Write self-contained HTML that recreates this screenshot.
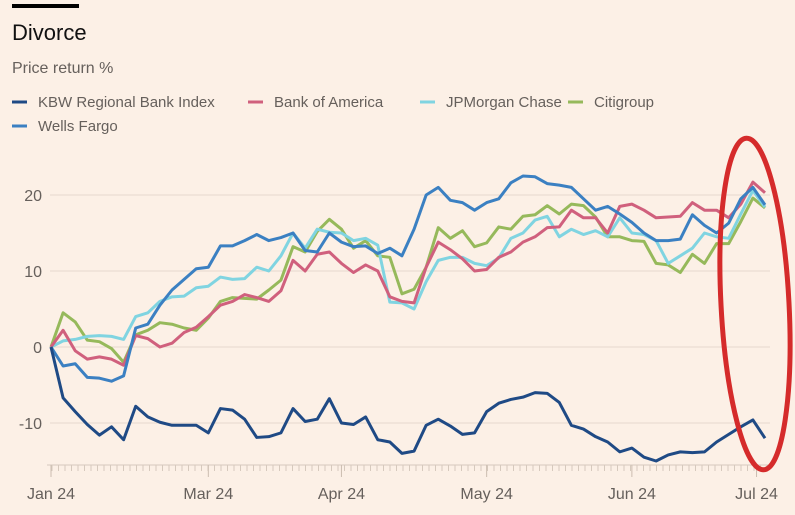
<!DOCTYPE html>
<html><head><meta charset="utf-8"><style>
body{margin:0;background:#fcf0e6;font-family:"Liberation Sans",sans-serif;}
#wrap{position:relative;width:795px;height:515px;overflow:hidden;background:#fcf0e6;}
.t{position:absolute;white-space:nowrap;}
</style></head><body>
<div id="wrap">
<div class="t" style="left:12px;top:4px;width:67px;height:4px;background:#000"></div>
<div class="t" style="left:12px;top:20px;font-size:22px;color:#111">Divorce</div>
<div class="t" style="left:12px;top:60px;font-size:16px;color:#66605c">Price return %</div>
<svg id="svg" width="795" height="515" style="position:absolute;left:0;top:0"></svg>
</div>
<script>
const categories=[...Array(60).keys()];
const seriesNames=["KBW Regional Bank Index","Bank of America","JPMorgan Chase","Citigroup","Wells Fargo"];
const kbw=[0,-6.7,-8.5,-10.2,-11.6,-10.5,-12.2,-7.8,-9.2,-9.9,-10.3,-10.3,-10.3,-11.3,-8.1,-8.3,-9.5,-11.9,-11.8,-11.3,-8.1,-9.8,-9.5,-6.8,-10,-10.2,-9.2,-12.2,-12.5,-14,-13.7,-10.3,-9.5,-10.4,-11.5,-11.3,-8.5,-7.4,-6.9,-6.6,-6,-6.1,-7.3,-10.3,-10.8,-11.8,-12.5,-13.8,-13.3,-14.5,-15,-14.2,-13.8,-13.9,-13.8,-12.5,-11.5,-10.5,-9.6,-12];
const bofa=[0,2.2,-0.5,-1.6,-1.3,-1.6,-2.4,1.5,1.1,0,0.5,1.9,2.6,4,5.5,6,6.9,6.5,6,7.4,11.4,10,12.2,12.5,11,9.8,10.8,10,6.6,6,5.8,10.5,13.8,12.8,11.6,10,10.2,11.8,12.5,13.8,14.5,15.7,15.8,18,17,17,15,18.5,18.8,18,17,17.1,17.2,19,18,18,17,18.8,21.7,20.3];
const jpm=[0,0.8,1,1.4,1.5,1.4,1,4,4.5,6,6.6,6.7,7.8,8,9.2,8.9,9,10.5,10,12,15,13,15.5,15.1,15,14,14.3,13.4,5.9,5.8,5,8.6,11.4,11.8,11.8,11,10.7,11.7,14.3,15,16.7,17.2,14.5,15.5,14.8,15.3,14.5,17,15,14.8,14,11,12,13,15,14.5,14.3,17.5,20.6,18.4];
const citi=[0,4.5,3.3,0.9,0.7,-0.2,-2,1.6,2.2,3.2,3,2.5,2.2,3.8,6,6.5,6.4,6.3,7.5,8.8,13.2,12.5,15.2,16.8,15.5,13,14,12,11.8,7,7.6,10.5,15.7,14.3,15.3,13.2,13.7,15.8,15.5,17.2,17.4,18.6,17.5,18.8,18.6,17.1,14.5,14.5,14,13.9,11,10.8,9.8,12.2,11,13.6,13.6,16.5,19.6,18.3];
const wfc=[0,-2.5,-2.2,-4,-4.1,-4.5,-3.8,2.5,3,5.5,7.5,8.9,10.3,10.5,13.3,13.3,14,14.8,14,14.4,15,12.7,12.5,15,13.8,13.2,13.3,12.3,13,12,15.5,20,21,19.3,19,18,19,19.5,21.6,22.5,22.4,21.5,21.3,21,19.5,18,18.5,17.5,16.4,15,14,14,14.2,17.4,16,15,16.3,19.5,21,18.7];
const yTicks=[20,10,0,-10];
const yTickLabels=["20","10","0","-10"];
const xTickPos=[0,13,24,36,48,58.3];
const xTickLabels=["Jan 24","Mar 24","Apr 24","May 24","Jun 24","Jul 24"];

const NS="http://www.w3.org/2000/svg";
const svg=document.getElementById('svg');
const x=i=>51+i*(765-51)/59;
const y=v=>347-v*7.6;
function mk(tag,attrs){const e=document.createElementNS(NS,tag);for(const k in attrs)e.setAttribute(k,attrs[k]);svg.appendChild(e);return e;}

yTicks.forEach((t,k)=>{
  const g=mk('line',{x1:50,x2:770,y1:y(t),y2:y(t),stroke:'#e6d9ce','stroke-width':1});
  
  
  const tx=mk('text',{x:42,y:y(t)+6,'text-anchor':'end','font-size':16,fill:'#66605c','font-family':'Liberation Sans, sans-serif'});
  tx.textContent=yTickLabels[k];
  
  
});
const ax=mk('line',{x1:47,x2:770,y1:465,y2:465,stroke:'#d6c9bd','stroke-width':1});


for(let px=52;px<=768;px+=6.5){
  const tk=mk('line',{x1:px,x2:px,y1:465,y2:471,stroke:'#d6c9bd','stroke-width':1});
  
  
}
xTickPos.forEach((p,k)=>{
  const tk=mk('line',{x1:x(p),x2:x(p),y1:465,y2:477,stroke:'#cbbdb0','stroke-width':1});
  
  
  const tx=mk('text',{x:x(p),y:499,'text-anchor':'middle','font-size':16,fill:'#66605c','font-family':'Liberation Sans, sans-serif'});
  tx.textContent=xTickLabels[k];
  
  
});

const series=[[citi,'#96b95b','line-citigroup'],[jpm,'#80d4e1','line-jpmorgan'],[bofa,'#d0607d','line-bank-of-america'],[wfc,'#3b80c2','line-wells-fargo'],[kbw,'#1f4a85','line-kbw-index']];
series.forEach(([d,c,n])=>{
  const p=mk('polyline',{points:d.map((v,i)=>x(categories[i])+','+y(v)).join(' '),fill:'none',stroke:c,'stroke-width':3,'stroke-linejoin':'round'});
  
  
});

const legend=[[12,102,'#1f4a85',0],[248,102,'#d0607d',1],[420,102,'#80d4e1',2],[568,102,'#96b95b',3],[12,126,'#3b80c2',4]];
legend.forEach(([lx,ly,c,k])=>{
  const l=mk('line',{x1:lx,x2:lx+15,y1:ly,y2:ly,stroke:c,'stroke-width':3});
  
  
  const t=mk('text',{x:lx+26,y:ly+5,'font-size':15,fill:'#66605c','font-family':'Liberation Sans, sans-serif'});
  t.textContent=seriesNames[k];
  
  
});

const el=mk('ellipse',{cx:755,cy:304,rx:34,ry:166,fill:'none',stroke:'#d52b2b','stroke-width':5,transform:'rotate(-3 755 304)'});


</script>
</body></html>
